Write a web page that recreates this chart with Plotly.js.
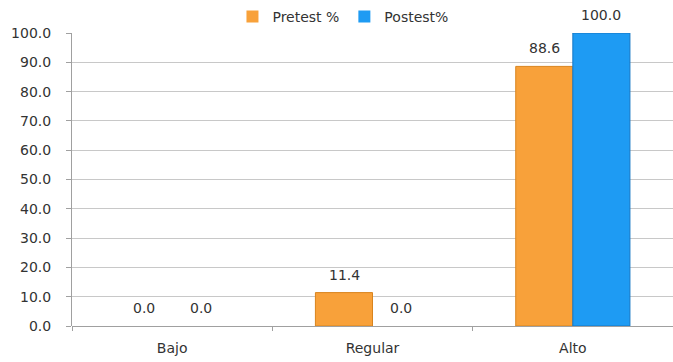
<!DOCTYPE html>
<html>
<head>
<meta charset="utf-8">
<script src="https://cdn.plot.ly/plotly-3.0.1.min.js"></script>
<style>html,body{margin:0;padding:0;background:#fff;}#chart{width:673px;height:362px;}</style>
</head>
<body>
<div id="chart"></div>
<script>
var categories = ["Bajo", "Regular", "Alto"];
var pretest = [0.0, 11.4, 88.6];
var postest = [0.0, 0.0, 100.0];
var seriesNames = ["Pretest %", "Postest%"];
var yTicks = [0, 10, 20, 30, 40, 50, 60, 70, 80, 90, 100];

var fontFam = "DejaVu Sans, Liberation Sans, sans-serif";
var txtColor = "#333333";
function fmt(v){ return v.toFixed(1); }
function lineWidths(arr){ return arr.map(function(v){ return v > 0 ? 1 : 0; }); }

var traces = [
  {
    type: "bar", name: seriesNames[0], x: categories, y: pretest,
    marker: {color: "#F8A13A", line: {color: "#D9841E", width: lineWidths(pretest)}}
  },
  {
    type: "bar", name: seriesNames[1], x: categories, y: postest,
    marker: {color: "#1E9BF3", line: {color: "#1577C4", width: lineWidths(postest)}}
  }
];

// value labels placed above each bar through the axis scales
var annotations = [];
var series = [pretest, postest];
var shifts = [-28.5, 28.5];
for (var s = 0; s < series.length; s++) {
  for (var i = 0; i < categories.length; i++) {
    annotations.push({
      xref: "x", yref: "y", x: categories[i], y: series[s][i],
      text: fmt(series[s][i]), showarrow: false,
      xshift: shifts[s], yshift: 18, yanchor: "middle", xanchor: "center",
      font: {family: fontFam, size: 14, color: txtColor}
    });
  }
}

var layout = {
  width: 673, height: 362,
  margin: {l: 72, r: 0, t: 33, b: 36, pad: 0},
  paper_bgcolor: "#ffffff", plot_bgcolor: "#ffffff",
  font: {family: fontFam, size: 14, color: txtColor},
  barmode: "group", bargap: 0.43, bargroupgap: 0,
  showlegend: true,
  legend: {orientation: "h", x: 0.267, xanchor: "left", y: 1.0, yanchor: "bottom",
           font: {family: fontFam, size: 14, color: txtColor}, tracegroupgap: 0},
  annotations: annotations,
  xaxis: {
    showgrid: false, showline: false, zeroline: false,
    ticks: "outside", tickson: "boundaries", ticklen: 4, tickcolor: "#a0a0a0",
    ticklabelstandoff: 12,
    tickfont: {family: fontFam, size: 14, color: txtColor}
  },
  yaxis: {
    range: [0, 100], tickvals: yTicks, ticktext: yTicks.map(fmt),
    showgrid: true, gridcolor: "#c8c8c8", gridwidth: 1,
    showline: true, linecolor: "#a0a0a0", ticks: "outside", ticklen: 5, tickcolor: "#a0a0a0",
    ticklabelstandoff: 12,
    zeroline: true, zerolinecolor: "#a0a0a0",
    tickfont: {family: fontFam, size: 14, color: txtColor}
  }
};

Plotly.newPlot("chart", traces, layout, {displayModeBar: false, staticPlot: true});
</script>
</body>
</html>
